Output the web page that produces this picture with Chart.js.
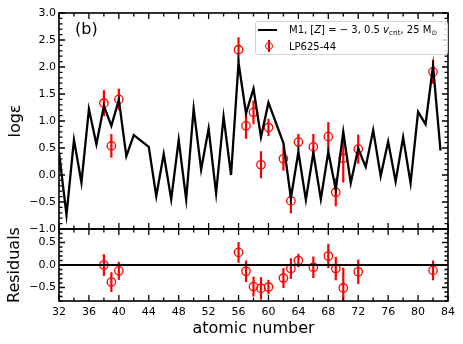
<!DOCTYPE html>
<html>
<head>
<meta charset="utf-8">
<script src="https://cdn.jsdelivr.net/npm/chart.js@4.4.0/dist/chart.umd.min.js"></script>
<style>
  body { margin: 0; background: #fff; }
  #wrap { position: relative; width: 463px; height: 344px; font-family: 'DejaVu Sans', sans-serif; }
  #wrap canvas { position: absolute; left: 0; top: 0; }
  #panel { position: absolute; left: 75px; top: 20px; font-size: 16px; line-height: 18px; color: #000; }
  #legend { position: absolute; left: 255px; top: 21px; width: 193px; height: 34px; box-sizing: border-box;
            border: 1px solid #d3d3d3; border-radius: 3px; background: rgba(255,255,255,0.8); font-size: 10px; color: #000; }
  #legend .row { position: absolute; left: 33px; line-height: 12px; white-space: nowrap; }
  #legend sub { font-size: 7px; vertical-align: -2px; line-height: 0; }
  #legend .ln { position: absolute; left: 2px; width: 19px; height: 2px; background: #000; }
  #legend .mk { position: absolute; left: 9px; width: 6px; height: 6px; border: 1.3px solid #e00; border-radius: 50%; }
  #legend .bar { position: absolute; left: 12px; width: 2px; height: 12px; background: #e00; }
</style>
</head>
<body>
<div id="wrap">
  <canvas id="abund" width="463" height="344"></canvas>
  <div id="panel">(b)</div>
  <div id="legend">
    <div class="ln" style="top:7px"></div>
    <div class="row" style="top:2px">M1, [<i>Z</i>] = − 3, 0.5 <i>v</i><sub>crit</sub>, 25 M<sub>⊙</sub></div>
    <div class="bar" style="top:18px"></div>
    <div class="mk" style="top:20px"></div>
    <div class="row" style="top:19px">LP625-44</div>
  </div>
</div>
<script>
// model yields (black line)
const modelZ = [32,33,34,35,36,37,38,39,40,41,42,44,45,46,47,48,49,50,51,52,53,54,55,56,57,58,59,60,
                62,63,64,65,66,67,68,69,70,71,72,73,74,75,76,77,78,79,80,81,82,83];
const modelLogEps = [0.42,-0.74,0.65,-0.14,1.22,0.57,1.28,0.91,1.39,0.35,0.74,
                     0.52,-0.39,0.39,-0.45,0.65,-0.45,1.23,0.10,0.86,-0.34,1.08,0.00,2.08,1.14,1.60,0.70,1.34,
                     0.59,-0.43,0.43,-0.46,0.41,-0.45,0.43,-0.27,0.80,-0.15,0.49,0.15,0.83,-0.02,0.62,-0.12,0.70,-0.15,1.17,0.94,2.02,0.45];

// LP625-44 observations
const obsZ = [38,39,40,56,57,58,59,60,62,63,64,66,68,69,70,72,82];
const obsLogEps = [1.33,0.54,1.40,2.32,0.91,1.16,0.19,0.88,0.30,-0.48,0.61,0.52,0.71,-0.32,0.31,0.48,1.91];
const obsErr = [0.24,0.22,0.20,0.23,0.24,0.22,0.25,0.16,0.22,0.23,0.15,0.24,0.27,0.26,0.45,0.27,0.22];
const residuals = [0.00,-0.38,-0.13,0.28,-0.14,-0.48,-0.52,-0.49,-0.29,-0.08,0.10,-0.05,0.20,-0.08,-0.51,-0.15,-0.12];
const residualZeroZ = [32, 84];

// y tick labels
const logTicks = [-1.0,-0.5,0.0,0.5,1.0,1.5,2.0,2.5,3.0];
const resTicks = [-0.5,0.0,0.5];

const RED = '#ff0000';
const tickFont = { family: 'DejaVu Sans', size: 11 };
const fmt = v => v.toFixed(1).replace('-', '\u2212');
const pts = (xs, ys) => xs.map((x, i) => ({ x: x, y: ys[i] }));

// error bars + inward ticks + frames + y tick labels
const framePlugin = {
  id: 'frame',
  beforeDatasetsDraw(chart) {
    const ctx = chart.ctx, xs = chart.scales.x;
    chart.data.datasets.forEach(ds => {
      if (!ds.errors) return;
      const ys = chart.scales[ds.yAxisID];
      ctx.save();
      ctx.strokeStyle = RED;
      ctx.lineWidth = 2.2;
      ds.data.forEach((p, i) => {
        const px = xs.getPixelForValue(p.x);
        let y1 = ys.getPixelForValue(p.y - ds.errors[i]);
        let y2 = ys.getPixelForValue(p.y + ds.errors[i]);
        y1 = Math.min(y1, ys.bottom); y2 = Math.max(y2, ys.top);
        ctx.beginPath(); ctx.moveTo(px, y1); ctx.lineTo(px, y2); ctx.stroke();
      });
      ctx.restore();
    });
  },
  afterDraw(chart) {
    const ctx = chart.ctx, xs = chart.scales.x;
    const L = xs.left, R = xs.right;
    ctx.save();
    ctx.strokeStyle = '#000';
    ctx.fillStyle = '#000';
    ctx.font = '11px "DejaVu Sans"';
    ctx.textAlign = 'right';
    ctx.textBaseline = 'middle';
    [['y', logTicks], ['yr', resTicks]].forEach(([id, labels]) => {
      const s = chart.scales[id];
      const T = s.top, B = s.bottom;
      ctx.lineWidth = 1.3;
      // y ticks, minor every 0.1
      for (let k = Math.ceil(s.min * 10 - 1e-6); k <= Math.floor(s.max * 10 + 1e-6); k++) {
        const len = (k % 5 === 0) ? 6 : 3.5;
        const py = s.getPixelForValue(k / 10);
        ctx.beginPath();
        ctx.moveTo(L, py); ctx.lineTo(L + len, py);
        ctx.moveTo(R, py); ctx.lineTo(R - len, py);
        ctx.stroke();
      }
      labels.forEach(v => ctx.fillText(fmt(v), L - 3, s.getPixelForValue(v)));
      // x ticks, minor every 2
      for (let z = xs.min; z <= xs.max; z += 2) {
        const len = (z % 4 === 0) ? 6 : 3.5;
        const px = xs.getPixelForValue(z);
        ctx.beginPath();
        ctx.moveTo(px, T); ctx.lineTo(px, T + len);
        ctx.moveTo(px, B); ctx.lineTo(px, B - len);
        ctx.stroke();
      }
      ctx.lineWidth = 1.6;
      ctx.strokeRect(L, T, R - L, B - T);
    });
    ctx.restore();
  }
};

const yCommon = {
  type: 'linear',
  position: 'left',
  stack: 'panels',
  grid: { display: false, drawTicks: false },
  border: { display: false },
  ticks: { display: false },
  afterFit: s => { s.width = 59; }
};

new Chart(document.getElementById('abund'), {
  type: 'line',
  data: {
    datasets: [
      {
        label: 'M1',
        data: pts(modelZ, modelLogEps),
        yAxisID: 'y',
        borderColor: '#000',
        borderWidth: 2.3,
        pointRadius: 0,
        tension: 0
      },
      {
        label: 'LP625-44',
        data: pts(obsZ, obsLogEps),
        errors: obsErr,
        yAxisID: 'y',
        showLine: false,
        pointStyle: 'circle',
        pointRadius: 4.2,
        pointBorderWidth: 1.3,
        pointBorderColor: RED,
        pointBackgroundColor: 'rgba(0,0,0,0)'
      },
      {
        label: 'zero',
        data: residualZeroZ.map(z => ({ x: z, y: 0 })),
        yAxisID: 'yr',
        borderColor: '#000',
        borderWidth: 2,
        pointRadius: 0
      },
      {
        label: 'residuals',
        data: pts(obsZ, residuals),
        errors: obsErr,
        yAxisID: 'yr',
        showLine: false,
        pointStyle: 'circle',
        pointRadius: 4.2,
        pointBorderWidth: 1.3,
        pointBorderColor: RED,
        pointBackgroundColor: 'rgba(0,0,0,0)'
      }
    ]
  },
  options: {
    responsive: false,
    animation: false,
    layout: { padding: { left: 0, right: 15, top: 13, bottom: 0 } },
    plugins: { legend: { display: false }, tooltip: { enabled: false } },
    scales: {
      x: {
        type: 'linear',
        min: 32, max: 84,
        grid: { display: false, drawTicks: false },
        border: { display: false },
        ticks: { stepSize: 4, autoSkip: false, font: tickFont, color: '#000', padding: 5, maxRotation: 0 },
        title: { display: true, text: 'atomic number', color: '#000',
                 font: { family: 'DejaVu Sans', size: 16 }, padding: { top: 0, bottom: 6 } },
        afterFit: s => { s.height = 43; }
      },
      yr: Object.assign({}, yCommon, {
        min: -0.8, max: 0.8,
        stackWeight: 1,
        title: { display: true, text: 'Residuals', color: '#000',
                 font: { family: 'DejaVu Sans', size: 16 }, padding: { top: 5, bottom: 0 } }
      }),
      y: Object.assign({}, yCommon, {
        min: -1, max: 3,
        stackWeight: 3,
        title: { display: true, text: 'logε', color: '#000',
                 font: { family: 'DejaVu Sans', size: 16 }, padding: { top: 6, bottom: 0 } }
      })
    }
  },
  plugins: [framePlugin]
});
</script>
</body>
</html>
